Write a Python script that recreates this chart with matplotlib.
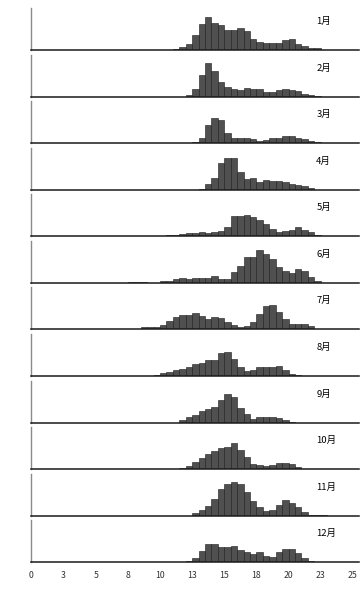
import matplotlib
matplotlib.use("Agg")
import matplotlib.pyplot as plt
from matplotlib.ticker import FixedLocator

plt.rcParams['font.family'] = ['Noto Sans CJK JP', 'DejaVu Sans']

# left edges of the 0.5-wide bins
bin_left = [7.5, 8, 8.5, 9, 9.5, 10, 10.5, 11, 11.5, 12, 12.5, 13, 13.5, 14, 14.5, 15,
            15.5, 16, 16.5, 17, 17.5, 18, 18.5, 19, 19.5, 20, 20.5, 21, 21.5, 22, 22.5, 23]
bin_width = 0.5

months = ["1月", "2月", "3月", "4月", "5月", "6月", "7月", "8月", "9月", "10月", "11月", "12月"]

jan = [0]*7 + [0.7, 3, 6, 15, 26, 33, 27, 25, 20, 20, 22, 19, 11, 8, 7, 7, 7, 10, 11, 6, 4, 2, 2, 0, 0]
feb = [0]*9 + [1.3, 7.7, 21.7, 34, 26, 14.3, 9.3, 7.7, 6.7, 8.3, 7.7, 7.7, 4.7, 4.3, 6.7, 7.3, 7, 5.3, 2.3, 1.3, 0.3, 0, 0]
mar = [0]*10 + [0.7, 5.3, 17.7, 24.7, 22.7, 9.7, 4.7, 4.7, 4.7, 3.7, 2.3, 3, 4.7, 4.7, 6.7, 7, 5.3, 4, 2, 0.7, 0.3, 0]
apr = [0]*11 + [1, 5.3, 12, 26.7, 32, 32, 17.3, 10.3, 11.3, 8, 9.7, 8.7, 8.7, 8, 6, 4.7, 3.3, 1.7, 0, 0, 0]
may = [0]*5 + [0.3, 1, 1.7, 2.7, 3, 3, 4, 3.3, 4.3, 5.3, 9.7, 20, 20.3, 21, 19.7, 16.3, 12.7, 7.7, 4.7, 5, 6.7, 9, 6.3, 4.3, 1.3, 0, 0]
jun = [1, 1.3, 1, 0.3, 0.3, 1.7, 2.3, 3.7, 4.7, 4, 4.7, 4.7, 5.3, 7, 4.3, 4.3, 10.7, 17.3, 25.7, 26.3,
       32.7, 28.7, 23.7, 15.7, 11.7, 10, 13.7, 12.3, 6, 1.7, 0, 0]
jul = [0, 0.3, 2, 2, 2.7, 4, 8.3, 12, 14, 14.7, 16.3, 13.3, 10.3, 12.3, 11, 7, 4.3, 2.7, 3.7, 7.3,
       15.7, 23.3, 24, 17, 10.7, 5.3, 5, 5.7, 3.7, 0.7, 0.3, 0.3]
aug = [0]*4 + [1.3, 2.7, 4, 6.3, 7.3, 9.3, 12.3, 13, 16, 16, 23, 24, 16.7, 9, 5.3, 6, 9.3, 9, 9.3, 10.3, 5.7, 2.3, 1, 0.3, 0.3, 0, 0, 0]
sep = [0]*8 + [2.3, 5.3, 8, 11.3, 13.7, 16, 22.3, 28.7, 25.7, 15, 8.7, 3.7, 5.7, 5.7, 5.7, 4.7, 2.7, 0.7, 0, 0, 0, 0, 0, 0]
oct_ = [0]*8 + [1, 3, 7.3, 10.7, 15, 18.3, 21, 22.3, 25.7, 19, 12.3, 5.3, 3.7, 3, 3.7, 6, 6.3, 5, 2.3, 0, 0, 0, 0, 0]
nov = [0]*10 + [2.3, 5.7, 9.7, 16.7, 26.3, 31.3, 33.7, 32, 23.7, 14.3, 8.7, 4.7, 6, 10.3, 15.7, 12.3, 9, 4, 0.7, 1, 1, 0]
dec = [0]*9 + [1.3, 4, 11.7, 18.7, 18.7, 15.7, 15.3, 16.7, 12, 10.3, 8.3, 10, 6.3, 5.3, 10, 13.7, 13.3, 9.7, 4, 1.3, 0, 0, 0.3]

series = [jan, feb, mar, apr, may, jun, jul, aug, sep, oct_, nov, dec]

tick_pos = [0, 2.5, 5, 7.5, 10, 12.5, 15, 17.5, 20, 22.5, 25]
tick_lab = ["0", "3", "5", "8", "10", "13", "15", "18", "20", "23", "25"]

W, H = 363, 589
fig = plt.figure(figsize=(W/100, H/100), dpi=100)

x0_px = 31.4
px_per_unit = 12.86
xmax = 25.5
ax_w = px_per_unit * xmax
panel_h = 42.0
base0 = 50.0
step = 46.57

for i, (name, vals) in enumerate(zip(months, series)):
    base = base0 + step * i
    ax = fig.add_axes([x0_px / W, 1 - base / H, ax_w / W, panel_h / H])
    ax.bar(bin_left, vals, width=bin_width, align='edge',
           facecolor='#505050', edgecolor='#1a1a1a', linewidth=0.4)
    ax.set_xlim(0, xmax)
    ax.set_ylim(0, panel_h)
    ax.set_yticks([])
    for s in ['top', 'right']:
        ax.spines[s].set_visible(False)
    ax.spines['left'].set_color('#8a8a8a')
    ax.spines['left'].set_linestyle((0, (1, 1)))
    ax.spines['left'].set_linewidth(1.0)
    ax.spines['bottom'].set_color('#1a1a1a')
    ax.spines['bottom'].set_linewidth(1.1)
    ax.set_xticks(tick_pos)
    ax.xaxis.set_minor_locator(FixedLocator([0, 5, 10, 15, 20, 25]))
    ax.tick_params(axis='x', which='major', length=0, pad=6, labelsize=6.3, labelcolor='#333333')
    ax.tick_params(axis='x', which='minor', direction='in', length=2.5, width=0.9, color='#909090')
    if i == len(months) - 1:
        ax.set_xticklabels(tick_lab)
    else:
        ax.set_xticklabels([])
    ax.text(22.15, 28.5, name, fontsize=6.8, color='black', ha='left', va='center')

fig.savefig("out.png", dpi=100)
